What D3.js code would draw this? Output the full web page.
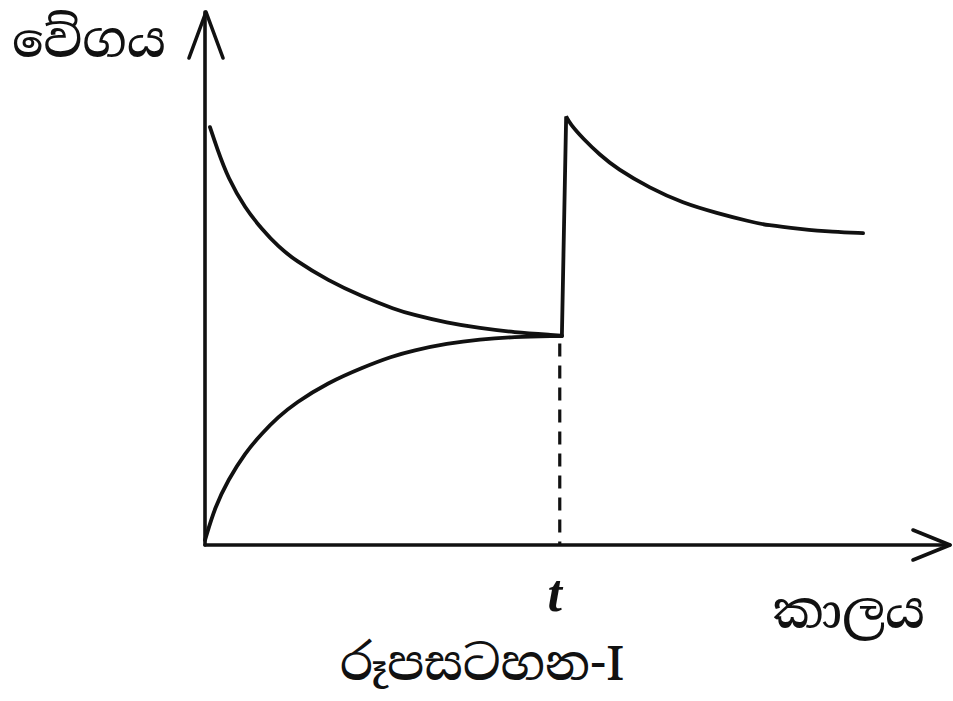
<!DOCTYPE html>
<html>
<head>
<meta charset="utf-8">
<script src="https://cdn.jsdelivr.net/npm/d3@7"></script>
<style>
html,body{margin:0;padding:0;background:#fff;}
svg{display:block;}
</style>
</head>
<body>
<svg id="chart" width="953" height="701"></svg>
<script>
// ---- data (time units, rate units) ----
const yLabel = "වේගය";
const xLabel = "කාලය";
const caption = "රූපසටහන-I";
const tLabel = "t";
const tMark = 10.0;

const forwardX = [0.14,0.34,0.65,1.13,1.61,2.06,2.54,3.47,4.43,5.36,5.86,6.82,7.75,8.68,9.92,10.06];
const forwardY = [19.6,18.6,17.2,15.8,14.8,14.0,13.35,12.4,11.65,11.05,10.8,10.42,10.17,9.98,9.84,9.82];

const reverseX = [0.0,0.28,0.65,1.13,1.61,2.06,2.54,3.47,4.43,5.27,5.86,6.82,7.75,8.68,9.92,10.06];
const reverseY = [0.23,1.78,3.05,4.32,5.25,6.00,6.66,7.62,8.32,8.85,9.12,9.45,9.65,9.76,9.8,9.8];

const afterX = [10.06,10.18,10.29,10.66,11.13,11.61,12.54,13.47,14.43,15.36,15.84,16.77,17.70,18.55];
const afterY = [9.8,20.1,19.75,19.05,18.3,17.65,16.74,16.04,15.57,15.17,15.0,14.82,14.68,14.63];

const xMax = 21, yMax = 25;

// ---- scales ----
const svg = d3.select("#chart");
const x = d3.scaleLinear().domain([0, xMax]).range([205, 950]);
const y = d3.scaleLinear().domain([0, yMax]).range([545, 12]);

const ink = "#111";
const line = d3.line().x(d => x(d[0])).y(d => y(d[1]));

// axes
const axisG = svg.append("g").attr("stroke", ink).attr("stroke-width", 3.6)
  .attr("fill", "none").attr("stroke-linecap", "round").attr("stroke-linejoin", "round");
axisG.append("path").attr("d", line([[0,0],[0,yMax]]));
axisG.append("path").attr("d", line([[0,0],[xMax,0]]));
// arrowheads
axisG.append("path").attr("d",
  `M${x(0)-16},${y(yMax)+46} L${x(0)+1},${y(yMax)} L${x(0)+18},${y(yMax)+46}`);
axisG.append("path").attr("d",
  `M${x(xMax)-37},${y(0)-15} L${x(xMax)},${y(0)} L${x(xMax)-37},${y(0)+15}`);

// dashed line at t
svg.append("path")
  .attr("d", line([[tMark, 9.45],[tMark, 0]]))
  .attr("stroke", ink).attr("stroke-width", 3.2).attr("fill", "none")
  .attr("stroke-dasharray", "13,9");

// curves
const curveLine = d3.line().x(d => x(d[0])).y(d => y(d[1])).curve(d3.curveBasis);
const series = [
  d3.zip(forwardX, forwardY),
  d3.zip(reverseX, reverseY)
];
svg.append("g").selectAll("path").data(series).join("path")
  .attr("d", curveLine)
  .attr("stroke", ink).attr("stroke-width", 3.8).attr("fill", "none")
  .attr("stroke-linecap", "round");

// after disturbance: vertical jump then decay
const after = d3.zip(afterX, afterY);
svg.append("path")
  .attr("d", line(after.slice(0, 2)) + curveLine(after.slice(1)).replace(/^M/, "L"))
  .attr("stroke", ink).attr("stroke-width", 3.8).attr("fill", "none")
  .attr("stroke-linejoin", "miter").attr("stroke-linecap", "round");

// labels
const sinFont = "'Noto Serif Sinhala','Noto Sans Sinhala','Iskoola Pota',serif";
svg.append("text").attr("x", 12).attr("y", 57)
  .attr("font-family", sinFont).attr("font-size", 49).attr("font-weight", 500)
  .attr("fill", ink).text(yLabel);
svg.append("text").attr("x", 773).attr("y", 628)
  .attr("font-family", sinFont).attr("font-size", 50).attr("font-weight", 500)
  .attr("fill", ink).text(xLabel);
svg.append("text").attr("x", 482).attr("y", 680).attr("text-anchor", "middle")
  .attr("font-family", sinFont).attr("font-size", 48).attr("font-weight", 500)
  .attr("fill", ink).text(caption);
svg.append("text").attr("x", x(tMark) - 5).attr("y", 611).attr("text-anchor", "middle")
  .attr("font-family", "'Liberation Serif','DejaVu Serif',serif").attr("font-style", "italic")
  .attr("font-weight", "bold").attr("font-size", 52).attr("fill", ink).text(tLabel);
</script>
</body>
</html>
